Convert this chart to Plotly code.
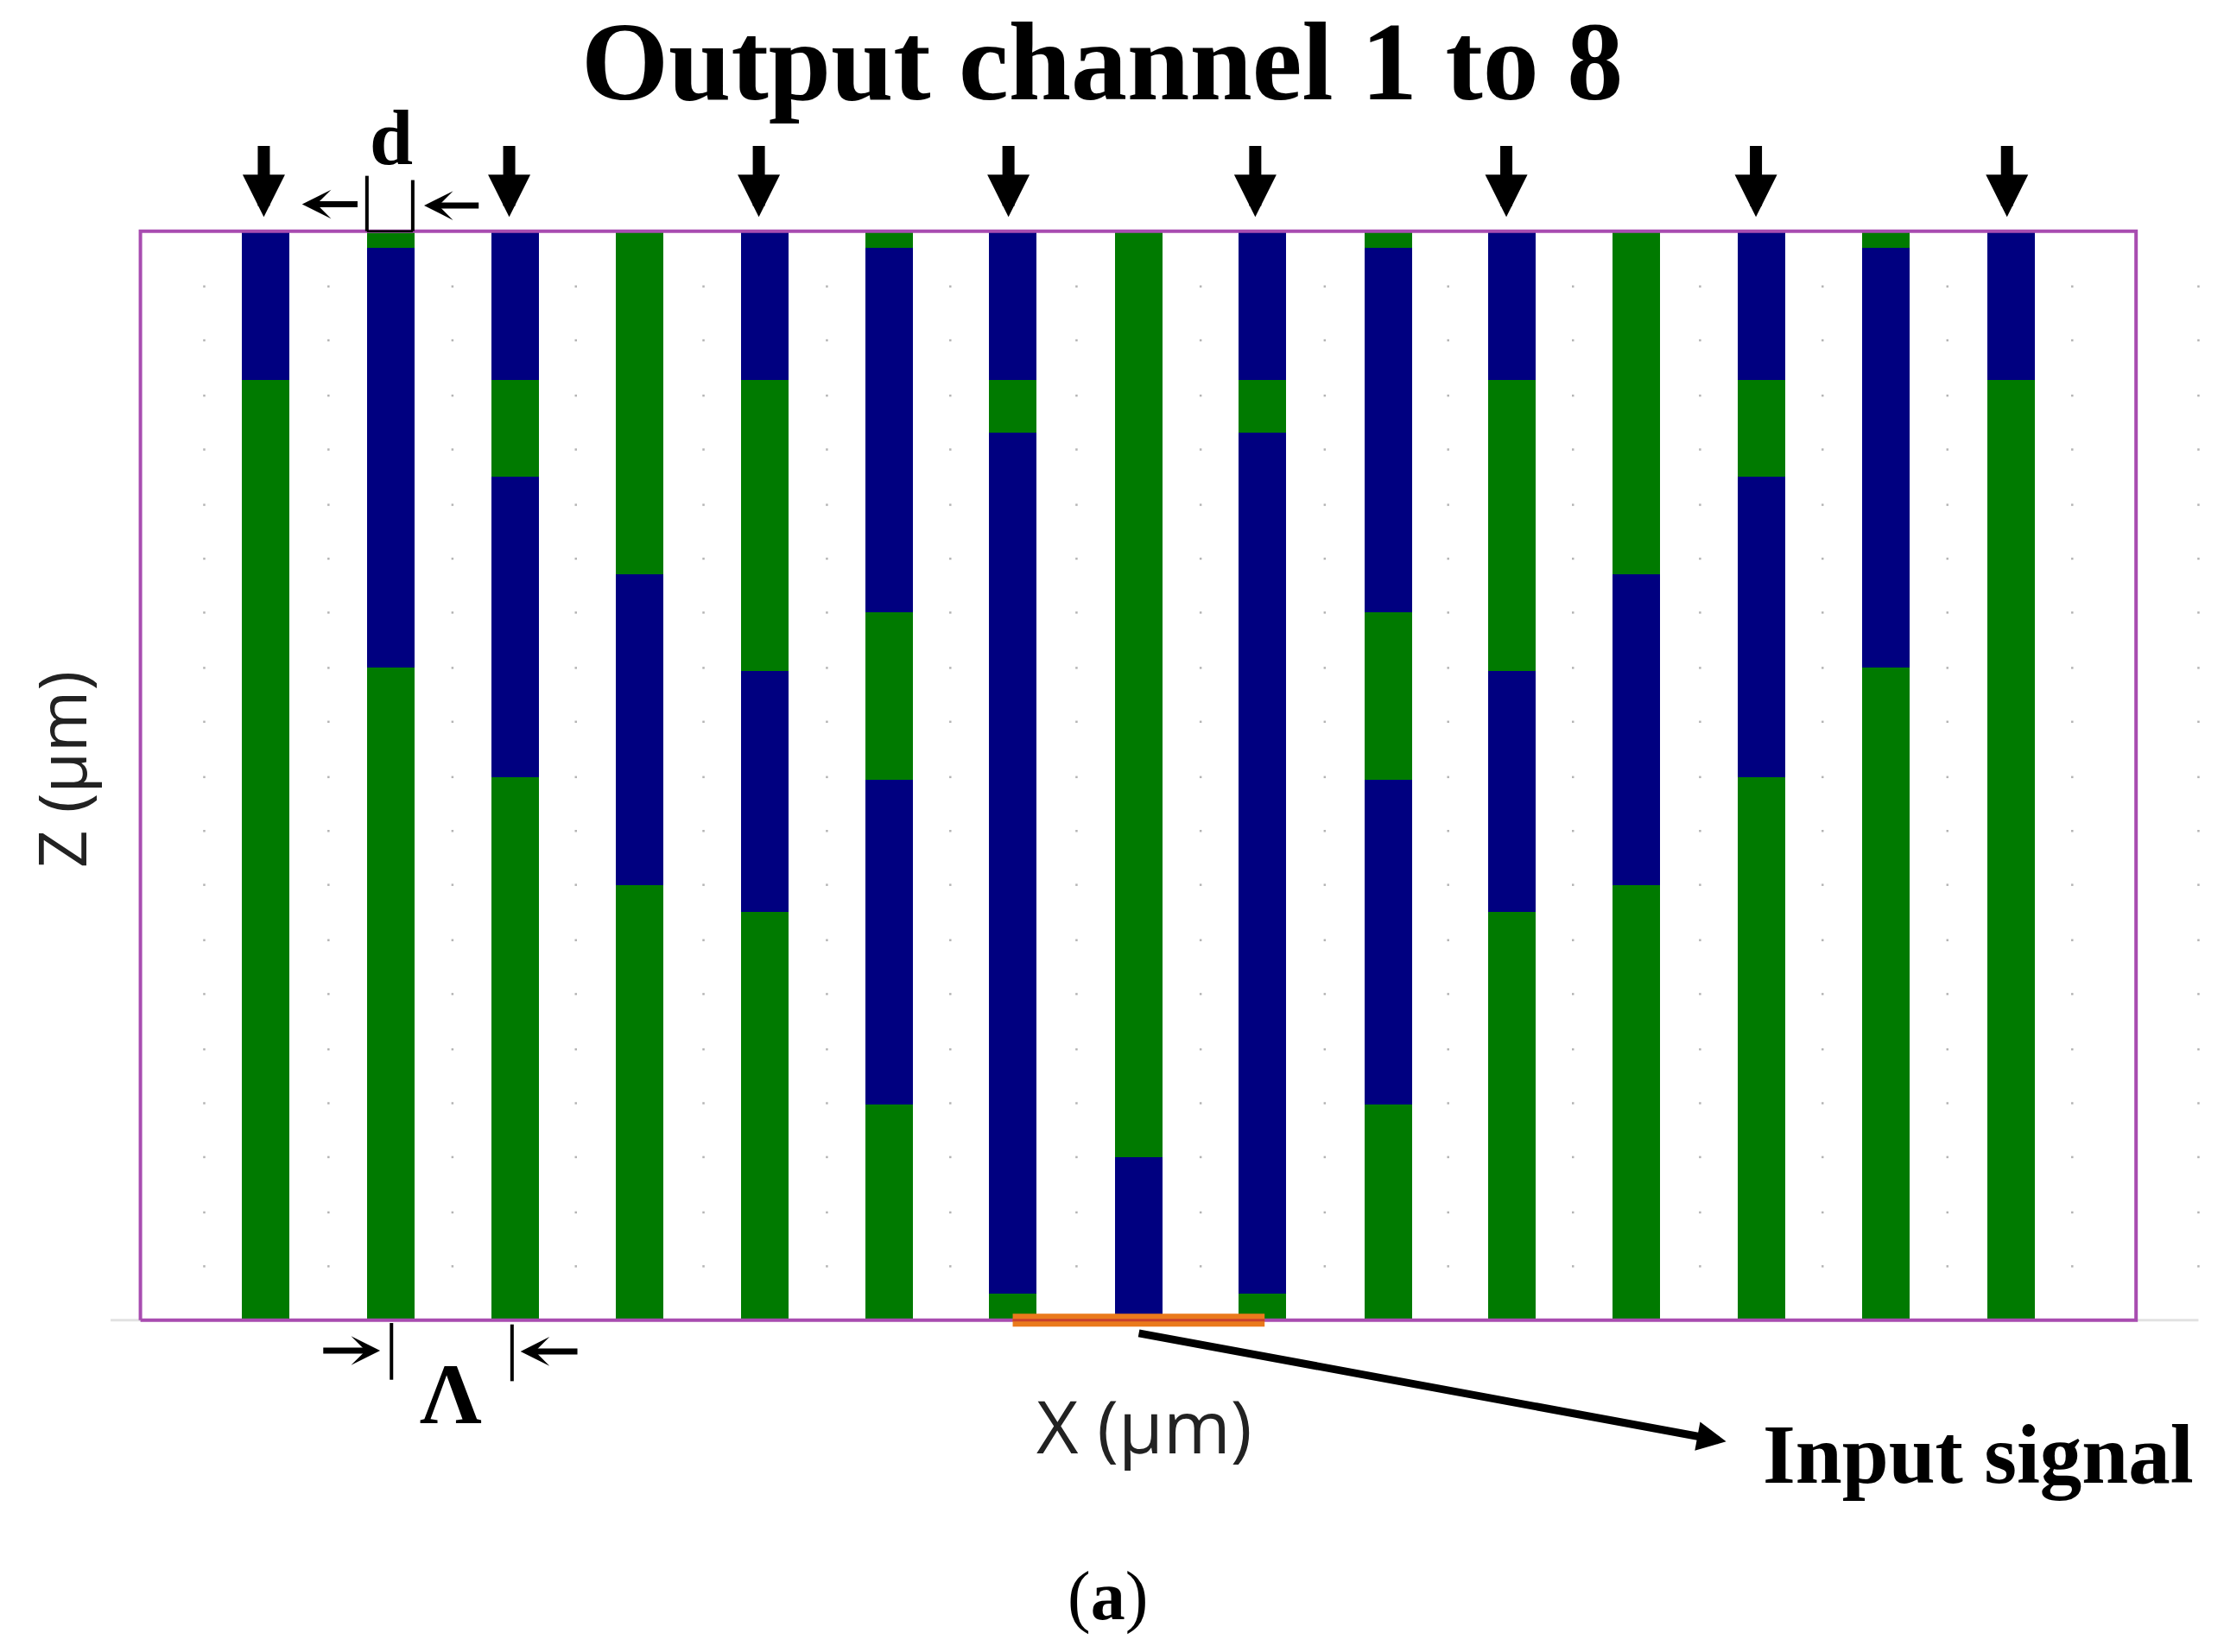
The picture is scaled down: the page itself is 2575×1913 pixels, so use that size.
import plotly.graph_objects as go

BLUE = "#000080"
GREEN = "#007a00"
SERIF = "Liberation Serif"
SANS = "Open Sans"

title_text = "Output channel 1 to 8"
x_label = "X (µm)"
z_label = "Z (µm)"
input_label = "Input signal"
panel_label = "(<b>a</b>)"

guide_x = [88, 176.6, 264, 352, 440, 528, 615, 704, 791, 880, 967, 1054.5, 1143, 1230.5, 1319]
guide_first = ["b", "g", "b", "g", "b", "g", "b", "g", "b", "g", "b", "g", "b", "g", "b"]
guide_breaks = [
    [768, 663, 0],
    [768, 756, 460, 0],
    [768, 663, 595, 383, 0],
    [768, 526, 307, 0],
    [768, 663, 458, 288, 0],
    [768, 756, 499, 381, 152, 0],
    [768, 663, 626, 19, 0],
    [768, 115, 0],
    [768, 663, 626, 19, 0],
    [768, 756, 499, 381, 152, 0],
    [768, 663, 458, 288, 0],
    [768, 526, 307, 0],
    [768, 663, 595, 383, 0],
    [768, 756, 460, 0],
    [768, 663, 0],
]

dot_x = [45, 132.6, 220, 307, 397, 484, 571, 660, 747.5, 835, 922, 1010, 1099.6, 1186, 1274, 1362, 1451]
dot_z = [729, 691, 652, 614, 575, 537, 499, 460, 422, 383, 345, 307, 268, 230, 191, 153, 115, 76, 38]

frame_x = [0, 1407, 1407, 0, 0]
frame_z = [0, 0, 768, 768, 0]
baseline_left_x = [-21, 0]
baseline_right_x = [1407, 1451]
baseline_z = [0, 0]
source_x = [615, 792.6]
source_z = [0, 0]

output_x = [87, 260, 436, 612, 786, 963, 1139, 1316]
output_tail_z = 829
output_tip_z = 778

d_left_x = [159.7, 159.7]
d_left_z = [807, 768]
d_right_x = [192, 192]
d_right_z = [804, 768]
d_base_x = [159.7, 192]
d_base_z = [768, 768]
period_left_x = [177, 177]
period_left_z = [-2, -42]
period_right_x = [262, 262]
period_right_z = [-3, -43]

X0, X1 = -99, 1469
Z0, Z1 = -234, 931

fig = go.Figure()

fig.add_trace(go.Scatter(
    x=[x for x in dot_x for _ in dot_z], y=[z for _ in dot_x for z in dot_z],
    mode="markers", marker=dict(color="#b4b4b4", size=2.5, symbol="square"), hoverinfo="skip"))

for colour_key, colour in (("b", BLUE), ("g", GREEN)):
    xs, bases, lengths = [], [], []
    for x, first, breaks in zip(guide_x, guide_first, guide_breaks):
        current = first
        for top, bottom in zip(breaks[:-1], breaks[1:]):
            if current == colour_key:
                xs.append(x)
                bases.append(bottom)
                lengths.append(top - bottom)
            current = "g" if current == "b" else "b"
    fig.add_trace(go.Bar(x=xs, y=lengths, base=bases, width=33.5,
                         marker=dict(color=colour, line=dict(width=0)), hoverinfo="skip"))


def line(x, z, colour, width):
    fig.add_trace(go.Scatter(x=x, y=z, mode="lines", line=dict(color=colour, width=width), hoverinfo="skip"))


line(baseline_left_x, baseline_z, "#e2e2e2", 3)
line(baseline_right_x, baseline_z, "#e2e2e2", 3)
line(frame_x, frame_z, "#a84cb0", 4)
line(source_x, source_z, "#ea7a1c", 15)
line(source_x, source_z, "#c8402c", 3)
for lx, lz in ((d_left_x, d_left_z), (d_right_x, d_right_z), (period_left_x, period_left_z),
               (period_right_x, period_right_z)):
    line(lx, lz, "#000000", 4)
line(d_base_x, d_base_z, "#000000", 2.5)

ann = []


def arrow(x0, z0, x1, z1, head, size, width):
    ann.append(dict(x=x1, y=z1, ax=x0, ay=z0, xref="x", yref="y", axref="x", ayref="y", text="",
                    showarrow=True, arrowhead=head, arrowsize=size, arrowwidth=width,
                    arrowcolor="#000000", standoff=0, startstandoff=0))


def label(x, z, text, size, family, colour="#000000", angle=0):
    ann.append(dict(x=x, y=z, xref="x", yref="y", text=text, showarrow=False, textangle=angle,
                    xanchor="center", yanchor="middle",
                    font=dict(size=size, family=family, color=colour)))


for x in output_x:
    arrow(x, output_tail_z, x, output_tip_z, 2, 0.7, 14)

arrow(154, 787, 114, 787, 3, 0.8, 7)
arrow(239.4, 786, 200, 786, 3, 0.8, 7)
arrow(128, -21.5, 169, -21.5, 3, 0.8, 7)
arrow(309, -22, 268, -22, 3, 0.8, 7)
arrow(703, -9, 1118, -85.6, 2, 0.75, 9)

label(678, 888, "<b>" + title_text + "</b>", 130, SERIF)
label(177, 834, "<b>d</b>", 90, SERIF)
label(219, -52, "<b>Λ</b>", 100, SERIF)
label(1296, -95, "<b>" + input_label + "</b>", 97, SERIF)
label(708, -74, x_label, 84, SANS, "#222222")
label(-56, 388, z_label, 77, SANS, "#222222", -90)
label(682, -195, panel_label, 80, SERIF)

fig.update_layout(
    width=2575, height=1913, margin=dict(l=0, r=0, t=0, b=0),
    paper_bgcolor="#ffffff", plot_bgcolor="#ffffff", showlegend=False, barmode="overlay",
    bargap=0, annotations=ann,
    xaxis=dict(range=[X0, X1], visible=False, fixedrange=True),
    yaxis=dict(range=[Z0, Z1], visible=False, fixedrange=True),
)
fig.write_html("out.html", config={"displayModeBar": False},
               post_script="document.body.style.margin='0';")
